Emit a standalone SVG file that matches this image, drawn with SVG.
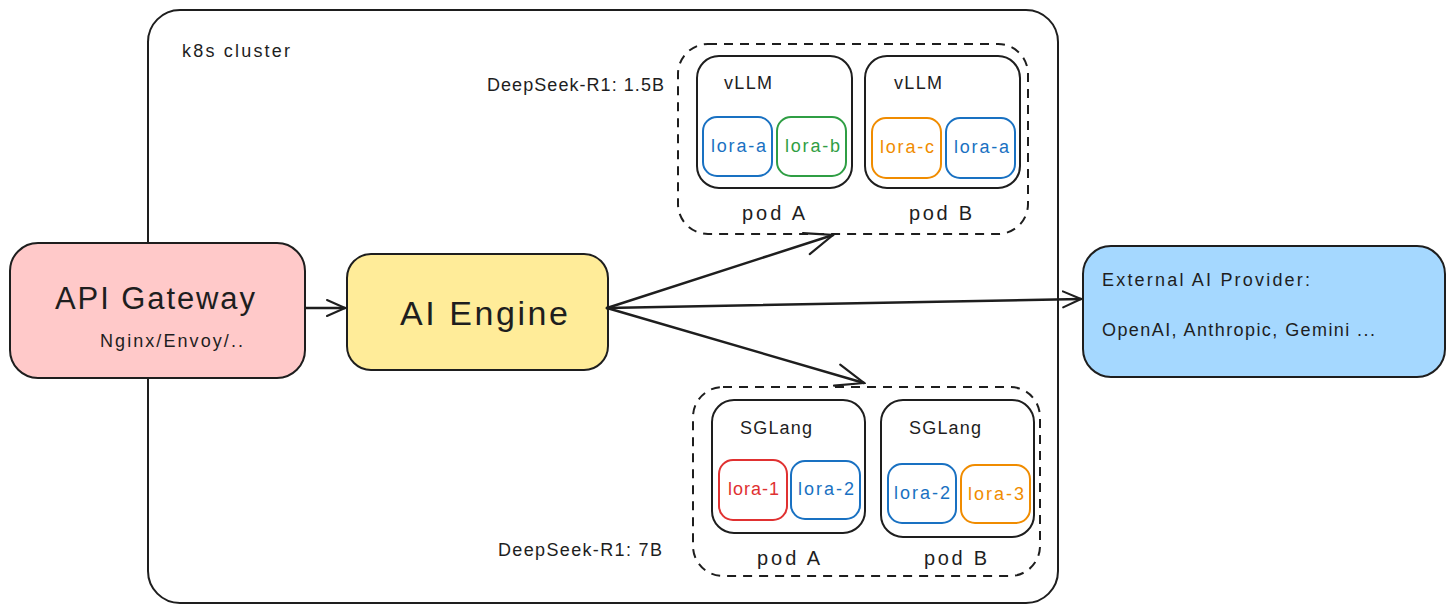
<svg xmlns="http://www.w3.org/2000/svg" width="1454" height="613" viewBox="0 0 1454 613">
<defs>
<marker id="ah" viewBox="0 0 20 20" refX="19" refY="10" markerWidth="20" markerHeight="20" markerUnits="userSpaceOnUse" orient="auto">
<path d="M1,2 L19,10 L1,18" fill="none" stroke="#1e1e1e" stroke-width="2" stroke-linecap="round"/>
</marker>
<marker id="ah2" viewBox="0 0 32 32" refX="30" refY="16" markerWidth="32" markerHeight="32" markerUnits="userSpaceOnUse" orient="auto">
<path d="M2,5 L30,16 L2,27" fill="none" stroke="#1e1e1e" stroke-width="2.2" stroke-linecap="round"/>
</marker>
</defs>
<style>
.box{stroke:#1e1e1e;stroke-width:2;}
.pod{fill:none;stroke:#1e1e1e;stroke-width:2;}
.grp{fill:none;stroke:#1e1e1e;stroke-width:2;stroke-dasharray:9 7;}
.t{font-family:"Liberation Sans",Arial,sans-serif;fill:#1e1e1e;}
.s{font-size:18px;}
.pl{font-size:20px;}
.lora{fill:none;stroke-width:2;}
.lt{font-family:"Liberation Sans",Arial,sans-serif;font-size:18px;text-anchor:start;}
.blue{stroke:#1971c2;}
.green{stroke:#2f9e44;}
.orange{stroke:#f08c00;}
.red{stroke:#e03131;}
.fblue{fill:#1971c2;}
.fgreen{fill:#2f9e44;}
.forange{fill:#f08c00;}
.fred{fill:#e03131;}
.c{stroke:#1e1e1e;stroke-width:2.5;fill:none;stroke-linecap:round;}
</style>
<rect width="1454" height="613" fill="#ffffff"/>

<g id="k8s-cluster">
<rect x="148" y="10" width="910" height="593" rx="32" fill="none" class="box"/>
<text x="182" y="57" class="t s" textLength="108" lengthAdjust="spacing">k8s cluster</text>
</g>

<g id="vllm-group">
<rect x="678" y="44" width="350" height="190" rx="30" class="grp"/>
<text x="487" y="91" class="t s" textLength="177" lengthAdjust="spacing">DeepSeek-R1: 1.5B</text>
</g>
<g id="vllm-pod-a">
<rect x="697" y="56" width="155" height="132" rx="22" class="pod"/>
<text x="724" y="89" class="t s" textLength="48" lengthAdjust="spacing">vLLM</text>
<rect x="703" y="117" width="69" height="59" rx="14" class="lora blue"/>
<text x="711" y="152" class="lt fblue" textLength="55" lengthAdjust="spacing">lora-a</text>
<rect x="777" y="117" width="69" height="59" rx="14" class="lora green"/>
<text x="785" y="152" class="lt fgreen" textLength="55" lengthAdjust="spacing">lora-b</text>
<text x="742" y="220" class="t pl" textLength="63" lengthAdjust="spacing">pod A</text>
</g>
<g id="vllm-pod-b">
<rect x="865" y="56" width="155" height="132" rx="22" class="pod"/>
<text x="894" y="89" class="t s" textLength="48" lengthAdjust="spacing">vLLM</text>
<rect x="872" y="118" width="69" height="60" rx="14" class="lora orange"/>
<text x="880" y="153" class="lt forange" textLength="54" lengthAdjust="spacing">lora-c</text>
<rect x="946" y="118" width="69" height="60" rx="14" class="lora blue"/>
<text x="954" y="153" class="lt fblue" textLength="55" lengthAdjust="spacing">lora-a</text>
<text x="909" y="220" class="t pl" textLength="63" lengthAdjust="spacing">pod B</text>
</g>

<g id="sglang-group">
<rect x="693" y="387" width="347" height="189" rx="30" class="grp"/>
<text x="498" y="556" class="t s" textLength="164" lengthAdjust="spacing">DeepSeek-R1: 7B</text>
</g>
<g id="sglang-pod-a">
<rect x="712" y="400" width="153" height="133" rx="22" class="pod"/>
<text x="740" y="434" class="t s" textLength="72" lengthAdjust="spacing">SGLang</text>
<rect x="719" y="460" width="68" height="60" rx="14" class="lora red"/>
<text x="728" y="495" class="lt fred" textLength="51" lengthAdjust="spacing">lora-1</text>
<rect x="791" y="461" width="69" height="58" rx="14" class="lora blue"/>
<text x="798" y="495" class="lt fblue" textLength="56" lengthAdjust="spacing">lora-2</text>
<text x="757" y="565" class="t pl" textLength="63" lengthAdjust="spacing">pod A</text>
</g>
<g id="sglang-pod-b">
<rect x="881" y="400" width="153" height="137" rx="22" class="pod"/>
<text x="909" y="434" class="t s" textLength="72" lengthAdjust="spacing">SGLang</text>
<rect x="888" y="464" width="68" height="59" rx="14" class="lora blue"/>
<text x="894" y="499" class="lt fblue" textLength="56" lengthAdjust="spacing">lora-2</text>
<rect x="961" y="465" width="69" height="58" rx="14" class="lora orange"/>
<text x="968" y="500" class="lt forange" textLength="56" lengthAdjust="spacing">lora-3</text>
<text x="924" y="565" class="t pl" textLength="63" lengthAdjust="spacing">pod B</text>
</g>

<g id="api-gateway">
<rect x="10" y="243" width="295" height="135" rx="28" fill="#ffc9c9" class="box"/>
<text x="55" y="309" class="t" font-size="31" textLength="200" lengthAdjust="spacing">API Gateway</text>
<text x="100" y="347" class="t" font-size="18" textLength="143" lengthAdjust="spacing">Nginx/Envoy/..</text>
</g>

<g id="ai-engine">
<rect x="347" y="254" width="261" height="116" rx="24" fill="#ffec99" class="box"/>
<text x="400" y="325" class="t" font-size="34" textLength="168" lengthAdjust="spacing">AI Engine</text>
</g>

<g id="external-ai-provider">
<rect x="1083" y="246" width="362" height="131" rx="28" fill="#a5d8ff" class="box"/>
<text x="1102" y="286" class="t s" textLength="208" lengthAdjust="spacing">External AI Provider:</text>
<text x="1102" y="336" class="t s" textLength="273" lengthAdjust="spacing">OpenAI, Anthropic, Gemini ...</text>
</g>

<g id="connectors">
<line x1="306" y1="308" x2="345" y2="308" class="c" marker-end="url(#ah)"/>
<line x1="607" y1="308" x2="833" y2="235" class="c" marker-end="url(#ah2)"/>
<line x1="607" y1="308" x2="1081" y2="299" class="c" marker-end="url(#ah)"/>
<line x1="607" y1="308" x2="864" y2="383" class="c" marker-end="url(#ah2)"/>
</g>
</svg>
